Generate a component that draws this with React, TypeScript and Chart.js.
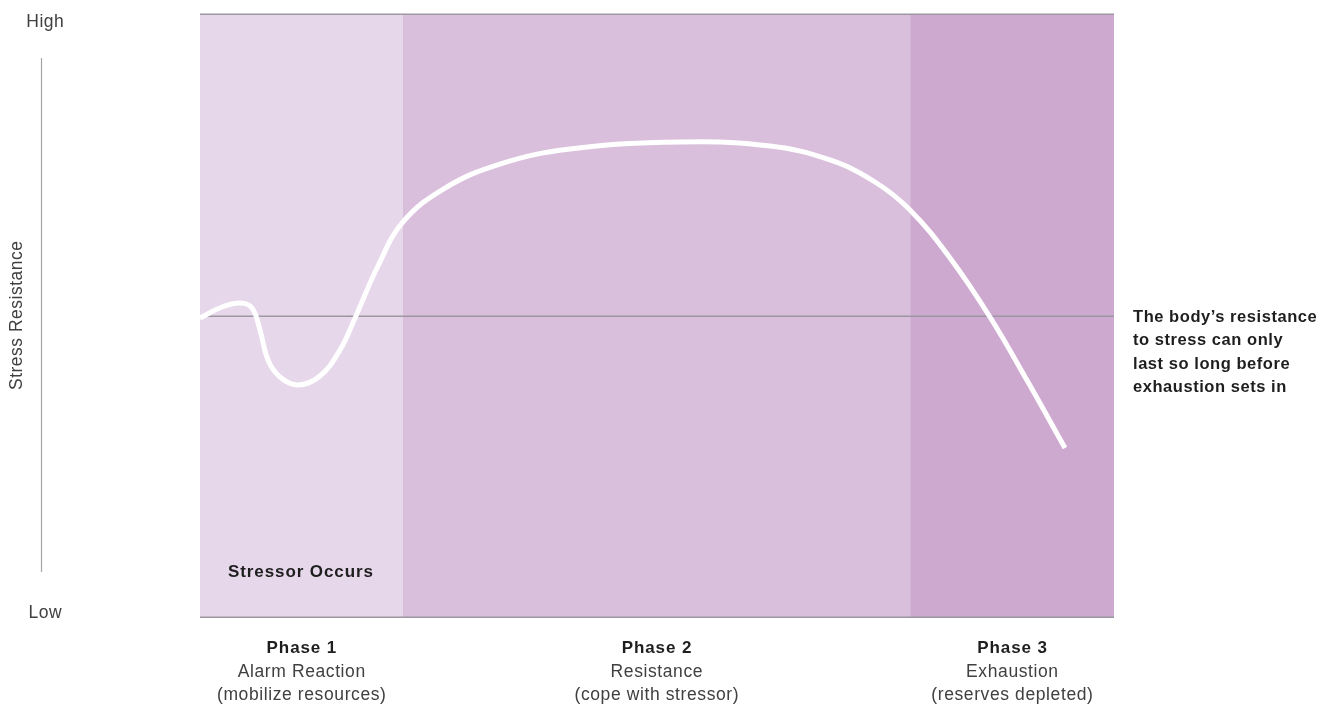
import React, { useEffect, useRef } from "react";
import { Chart, registerables } from "chart.js";

Chart.register(...registerables);

// Curve: x = time (0..100 across plot), y = stress resistance (0 = Low, 100 = High)
const curveX = [0, 2.41, 4.38, 5.69, 6.56, 7.44, 8.75, 10.72, 13.13, 15.32, 16.96, 19.47, 22.21, 26.81, 32.82, 40.48, 52.52, 62.36, 68.93, 73.85, 77.68, 82.06, 86.43, 90.59, 94.64];
const curveY = [49.59, 51.41, 52.07, 51.24, 47.59, 42.62, 39.8, 38.47, 39.97, 44.28, 49.59, 58.21, 65.51, 71.14, 75.12, 77.61, 78.77, 78.11, 75.79, 72.14, 67.5, 59.54, 49.75, 38.97, 28.03];

// Phase bands
const phaseBounds = [0, 22.2, 77.7, 100];
const phaseColors = ["#e6d7ea", "#d9bfdc", "#cda9cf"];
const phaseTitles = ["Phase 1", "Phase 2", "Phase 3"];
const phaseNames = ["Alarm Reaction", "Resistance", "Exhaustion"];
const phaseNotes = ["(mobilize resources)", "(cope with stressor)", "(reserves depleted)"];

// Reference lines
const gridValues = [0, 50, 100];

// Labels
const yHigh = "High";
const yLow = "Low";
const yTitle = "Stress Resistance";
const stressorLabel = "Stressor Occurs";
const noteLines = [
  "The body\u2019s resistance",
  "to stress can only",
  "last so long before",
  "exhaustion sets in",
];

const FONT = "'Liberation Sans', Arial, Helvetica, sans-serif";

function setSpacing(ctx: any, s: number) {
  if ("letterSpacing" in ctx) ctx.letterSpacing = `${s}px`;
}

function centerText(ctx: any, text: string, cx: number, y: number, spacing: number) {
  const w = ctx.measureText(text).width;
  ctx.textAlign = "left";
  ctx.fillText(text, cx - (w - spacing) / 2, y);
}

const bandsPlugin = {
  id: "bands",
  beforeDatasetsDraw(chart: any) {
    const { ctx, chartArea, scales } = chart;
    const x = scales.x;
    const y = scales.y;
    ctx.save();
    for (let i = 0; i < phaseColors.length; i++) {
      const x0 = x.getPixelForValue(phaseBounds[i]);
      const x1 = x.getPixelForValue(phaseBounds[i + 1]);
      ctx.fillStyle = phaseColors[i];
      ctx.fillRect(x0, chartArea.top, x1 - x0, chartArea.bottom - chartArea.top);
    }
    ctx.strokeStyle = "#9c97a0";
    ctx.lineWidth = 1.5;
    for (const v of gridValues) {
      const py = Math.round(y.getPixelForValue(v)) + 0.25;
      ctx.beginPath();
      ctx.moveTo(chartArea.left, py);
      ctx.lineTo(chartArea.right, py);
      ctx.stroke();
    }
    ctx.restore();
  },
  afterDraw(chart: any) {
    const { ctx, chartArea, scales } = chart;
    const x = scales.x;
    const y = scales.y;
    ctx.save();
    ctx.textBaseline = "alphabetic";
    // y axis labels
    ctx.fillStyle = "#404040";
    ctx.font = `17.5px ${FONT}`;
    setSpacing(ctx, 0.5);
    centerText(ctx, yHigh, 45, y.getPixelForValue(100) + 13, 0.5);
    centerText(ctx, yLow, 45, y.getPixelForValue(0) + 1, 0.5);
    // axis vertical line
    ctx.strokeStyle = "#a6a6a6";
    ctx.lineWidth = 1.2;
    ctx.beginPath();
    ctx.moveTo(41.5, 58);
    ctx.lineTo(41.5, 572);
    ctx.stroke();
    // y title rotated
    ctx.save();
    ctx.translate(22, y.getPixelForValue(50));
    ctx.rotate(-Math.PI / 2);
    centerText(ctx, yTitle, 0, 0, 0.5);
    ctx.restore();

    // Stressor label
    ctx.fillStyle = "#1e1e1e";
    ctx.font = `bold 17px ${FONT}`;
    setSpacing(ctx, 0.9);
    ctx.textAlign = "left";
    ctx.fillText(stressorLabel, 228, 577);

    // Phase labels
    for (let i = 0; i < phaseTitles.length; i++) {
      const cx = (x.getPixelForValue(phaseBounds[i]) + x.getPixelForValue(phaseBounds[i + 1])) / 2;
      ctx.fillStyle = "#1e1e1e";
      ctx.font = `bold 17px ${FONT}`;
      setSpacing(ctx, 0.9);
      centerText(ctx, phaseTitles[i], cx, chartArea.bottom + 36, 0.9);
      ctx.fillStyle = "#404040";
      ctx.font = `17.5px ${FONT}`;
      setSpacing(ctx, 0.6);
      centerText(ctx, phaseNames[i], cx, chartArea.bottom + 60, 0.6);
      centerText(ctx, phaseNotes[i], cx, chartArea.bottom + 83, 0.6);
    }

    // Right note
    ctx.textAlign = "left";
    ctx.fillStyle = "#1e1e1e";
    ctx.font = `bold 16.5px ${FONT}`;
    setSpacing(ctx, 0.55);
    for (let i = 0; i < noteLines.length; i++) {
      ctx.fillText(noteLines[i], 1133, 322 + i * 23.3);
    }
    ctx.restore();
  },
};

export default function App() {
  const ref = useRef<HTMLCanvasElement | null>(null);
  useEffect(() => {
    document.body.style.margin = "0";
    const canvas = ref.current;
    if (!canvas) return;
    const chart = new Chart(canvas, {
      type: "line",
      data: {
        datasets: [
          {
            data: curveX.map((v, i) => ({ x: v, y: curveY[i] })),
            borderColor: "#ffffff",
            borderWidth: 5,
            pointRadius: 0,
            tension: 0.4,
            borderCapStyle: "butt",
            borderJoinStyle: "round",
            fill: false,
          },
        ],
      },
      options: {
        animation: false,
        responsive: true,
        maintainAspectRatio: false,
        layout: { padding: { left: 200, right: 217, top: 14, bottom: 87 } },
        plugins: { legend: { display: false }, tooltip: { enabled: false } },
        events: [],
        scales: {
          x: { type: "linear", min: 0, max: 100, display: false },
          y: { type: "linear", min: 0, max: 100, display: false },
        },
      },
      plugins: [bandsPlugin],
    } as any);
    return () => chart.destroy();
  }, []);
  return (
    <div style={{ position: "relative", width: "1331px", height: "704px" }}>
      <canvas ref={ref} />
    </div>
  );
}
